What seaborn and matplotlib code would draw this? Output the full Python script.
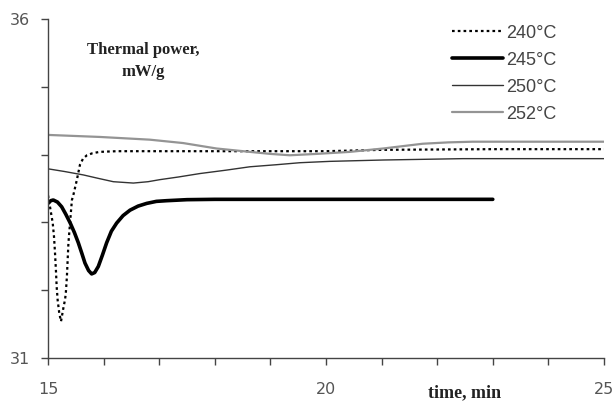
import matplotlib
matplotlib.use("Agg")
import matplotlib.pyplot as plt
import seaborn as sns

sns.set_theme(style="white")
plt.rcParams['font.family'] = ['DejaVu Sans']

# data (time in min, thermal power in mW/g)
t_240 = [15.0, 15.036, 15.085, 15.108, 15.126, 15.144, 15.156, 15.174, 15.203, 15.234,
         15.275, 15.306, 15.32, 15.34, 15.367, 15.40, 15.43, 15.455, 15.52, 15.575,
         15.63, 15.70, 15.80, 15.93, 16.24, 18.0, 20.0, 21.0, 23.0, 25.0]
p_240 = [33.40, 33.23, 32.99, 32.79, 32.55, 32.27, 32.05, 31.85, 31.66, 31.54,
         31.73, 31.86, 31.95, 32.2, 32.69, 33.03, 33.33, 33.40, 33.63, 33.85,
         33.94, 33.99, 34.02, 34.04, 34.05, 34.05, 34.05, 34.07, 34.08, 34.08]

t_245 = [15.0, 15.05, 15.095, 15.17, 15.246, 15.32, 15.40, 15.475, 15.545, 15.61, 15.665,
         15.73, 15.785, 15.84, 15.905, 15.98, 16.055, 16.14, 16.235, 16.35, 16.475,
         16.62, 16.775, 16.95, 17.135, 17.5, 18.0, 20.0, 22.0, 23.0]
p_245 = [33.28, 33.32, 33.33, 33.30, 33.23, 33.12, 32.99, 32.85, 32.70, 32.54, 32.40,
         32.29, 32.24, 32.26, 32.35, 32.52, 32.70, 32.87, 32.99, 33.10, 33.18,
         33.24, 33.28, 33.31, 33.32, 33.335, 33.34, 33.34, 33.34, 33.34]

t_250 = [15.0, 15.3, 15.635, 15.9, 16.175, 16.535, 16.8, 17.01, 17.35, 17.73, 18.2,
         18.63, 19.1, 19.53, 20.07, 21.03, 22.46, 25.0]
p_250 = [33.79, 33.75, 33.70, 33.65, 33.60, 33.58, 33.60, 33.63, 33.67, 33.72, 33.77,
         33.82, 33.85, 33.88, 33.90, 33.92, 33.94, 33.94]

t_252 = [15.0, 15.935, 16.83, 17.43, 18.03, 18.63, 19.0, 19.35, 19.83, 20.43, 21.03,
         21.74, 22.2, 22.64, 25.0]
p_252 = [34.29, 34.26, 34.22, 34.17, 34.09, 34.04, 34.01, 33.99, 34.01, 34.04, 34.09,
         34.16, 34.18, 34.19, 34.19]

labels = ["240°C", "245°C", "250°C", "252°C"]

fig = plt.figure(figsize=(6.13, 4.03), dpi=100)
ax = fig.add_axes([0.0783, 0.1117, 0.907, 0.8412])

sns.lineplot(x=t_240, y=p_240, ax=ax, color="black", linewidth=1.6,
             linestyle=(0, (1.2, 1.4)), label=labels[0])
sns.lineplot(x=t_245, y=p_245, ax=ax, color="black", linewidth=2.6, label=labels[1])
sns.lineplot(x=t_250, y=p_250, ax=ax, color="#333333", linewidth=1.0, label=labels[2])
sns.lineplot(x=t_252, y=p_252, ax=ax, color="#949494", linewidth=1.6, label=labels[3])

ax.set_xlim(15, 25)
ax.set_ylim(31, 36)
ax.set_xticks(range(15, 26))
ax.set_xticklabels(["15", "", "", "", "", "20", "", "", "", "", "25"])
ax.set_yticks(range(31, 37))
ax.set_yticklabels(["31", "", "", "", "", "36"])
ax.tick_params(axis="both", bottom=True, left=True, direction="out", length=5, width=1,
               color="#444444", labelsize=11.5, labelcolor="#555555", pad=8)
ax.tick_params(axis="x", pad=12)
for side in ["top", "right"]:
    ax.spines[side].set_visible(False)
for side in ["left", "bottom"]:
    ax.spines[side].set_color("#444444")
    ax.spines[side].set_linewidth(1.0)

ax.text(0.171, 0.876, "Thermal power,\nmW/g", transform=ax.transAxes, ha="center", va="center",
        fontsize=12, fontweight="bold", family=["Liberation Serif"], color="#222222",
        linespacing=1.5)
fig.text(0.758, 0.025, "time, min", ha="center", va="center", fontsize=13,
         fontweight="bold", family=["Liberation Serif"], color="#222222")

leg = ax.legend(loc="upper right", bbox_to_anchor=(0.944, 1.031), frameon=False,
                handlelength=2.8, handletextpad=0.2, labelspacing=0.55,
                prop={"family": "Liberation Sans", "size": 13})
for txt in leg.get_texts():
    txt.set_color("#444444")

fig.savefig("out.png", dpi=100)
